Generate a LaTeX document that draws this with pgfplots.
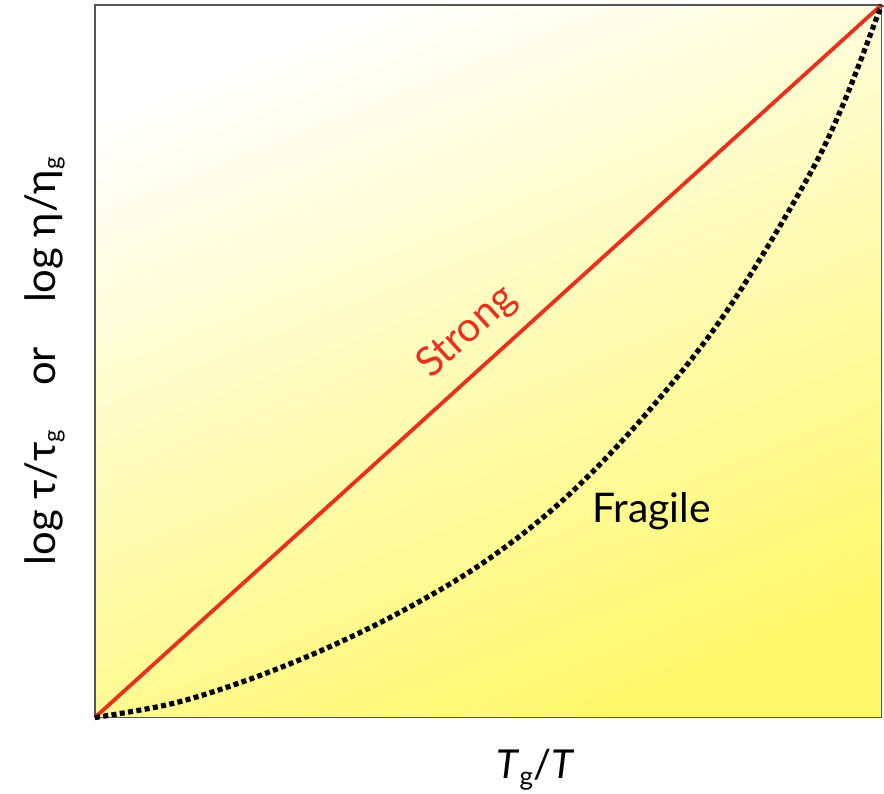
\documentclass[border=0pt]{standalone}
\usepackage{pgfplots}
\pgfplotsset{compat=1.18}
\usepackage{fontspec}
\setmainfont{Lato}
\definecolor{strongred}{HTML}{E8301C}
\definecolor{bgtl}{HTML}{FFFFFF}
\definecolor{bgbr}{HTML}{FFF86C}
\definecolor{frame}{HTML}{555555}
\begin{document}
\begin{tikzpicture}
\begin{axis}[
  scale only axis,
  width=787bp, height=713bp,
  xmin=0, xmax=1, ymin=0, ymax=1,
  xtick=\empty, ytick=\empty,
  axis line style={frame, line width=1.6bp},
  axis background/.style={top color=bgtl, bottom color=bgbr, shading angle=22},
  clip=false,
]
\path (rel axis cs:-0.1207,-0.1052) rectangle (rel axis cs:1.0025,1.007);
\addplot[strongred, line width=3.8bp] coordinates {(0,0) (1,1)};
\addplot[black, line width=5.2bp, dash pattern=on 5bp off 3.4bp, smooth, tension=0.6] coordinates {
(0,0) (0.1,0.020) (0.2,0.055) (0.3,0.100) (0.4,0.155) (0.5,0.222)
(0.6,0.310) (0.7,0.425) (0.8,0.565) (0.9,0.745) (0.95,0.857) (1,1)};
\node[strongred, font=\fontsize{41}{48}\selectfont, rotate=42.2] at (axis cs:0.473,0.541) {Strong};
\node[black, font=\fontsize{41}{48}\selectfont] at (axis cs:0.708,0.290) {Fragile};
\node[black, font=\fontsize{42}{48}\selectfont, rotate=90] at (rel axis cs:-0.064,0.50)
  {log τ/τ\raisebox{-0.25ex}{\fontsize{24}{28}\selectfont g}\hspace{1.05em}or\hspace{1.05em}log η/η\raisebox{-0.25ex}{\fontsize{24}{28}\selectfont g}};
\node[black, font=\fontsize{40}{48}\selectfont] at (rel axis cs:0.56,-0.073)
  {\textit{T}\raisebox{-0.35ex}{\fontsize{26}{30}\selectfont g}/\textit{T}};
\end{axis}
\end{tikzpicture}
\end{document}
